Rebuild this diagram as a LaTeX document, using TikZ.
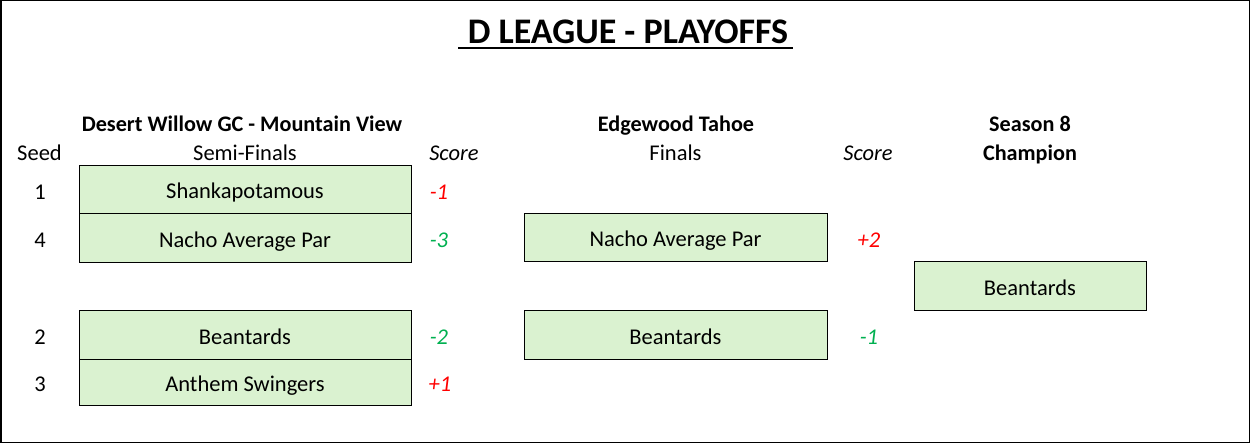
\documentclass[tikz,border=0pt]{standalone}
\usepackage{fontspec}
\setmainfont{Carlito}
\definecolor{cellfill}{HTML}{DAF2D0}
\definecolor{scgreen}{HTML}{00B050}
\definecolor{scred}{HTML}{FF0000}
\begin{document}
\begin{tikzpicture}[x=1pt,y=-1pt,
  every node/.style={font=\fontsize{22.5}{26}\selectfont, inner sep=0pt},
  cell/.style={draw=black, line width=1pt, fill=cellfill, rectangle,
    text height=19pt, text depth=0pt},
  lbl/.style={anchor=base},
  hdr/.style={anchor=base, font=\fontsize{22.2}{26}\selectfont\bfseries},
  sc/.style={anchor=base, font=\fontsize{22.5}{26}\selectfont\itshape},
  good/.style={sc, text=scgreen},
  bad/.style={sc, text=scred}]
\useasboundingbox (0,0) rectangle (1251,444);
\draw[line width=1.5pt] (0.75,0.75) rectangle (1249.25,442.25);

% title
\node[anchor=base, font=\fontsize{36}{42}\selectfont\bfseries] (title) at (628,44) {D LEAGUE - PLAYOFFS};
\coordinate (ulA) at (458,48.5);
\coordinate (ulB) at (793,48.5);
\draw[line width=2pt] (ulA) -- (ulB);

% headers
\node[hdr] (h1) at (242,131) {Desert Willow GC - Mountain View};
\node[hdr] (h2) at (676,131) {Edgewood Tahoe};
\node[hdr] (h3) at (1030,131) {Season 8};
\node[lbl] (seed) at (39.5,160) {Seed};
\node[lbl] (semi) at (245,160) {Semi-Finals};
\node[sc] (score1) at (454,160) {Score};
\node[lbl] (fin) at (675.5,160) {Finals};
\node[sc] (score2) at (868,160) {Score};
\node[hdr] (champ) at (1030,160) {Champion};

% semi-final cells
\node[cell, minimum width=332pt, minimum height=48pt] (s1) at (245,189) {Shankapotamous};
\node[cell, minimum width=332pt, minimum height=49pt] (s2) at (245,237.5) {Nacho Average Par};
\node[cell, minimum width=332pt, minimum height=49pt] (s3) at (245,334.5) {Beantards};
\node[cell, minimum width=332pt, minimum height=46pt] (s4) at (245,382) {Anthem Swingers};

% seeds
\node[lbl] (n1) at (40,199) {1};
\node[lbl] (n4) at (40,247.5) {4};
\node[lbl] (n2) at (40,344.5) {2};
\node[lbl] (n3) at (40,391.5) {3};

% semi scores
\node[bad] (p1) at (439,199) {-1};
\node[good] (p2) at (439,247.5) {-3};
\node[good] (p3) at (439,344.5) {-2};
\node[bad] (p4) at (440,391.5) {+1};

% finals
\node[cell, minimum width=303pt, minimum height=48pt] (f1) at (675.5,237) {Nacho Average Par};
\node[cell, minimum width=303pt, minimum height=49pt] (f2) at (675.5,334.5) {Beantards};
\node[bad] (q1) at (869,247.5) {+2};
\node[good] (q2) at (869,344.5) {-1};

% champion
\node[cell, minimum width=232pt, minimum height=49.5pt] (c) at (1030,285.8) {Beantards};
\end{tikzpicture}
\end{document}
